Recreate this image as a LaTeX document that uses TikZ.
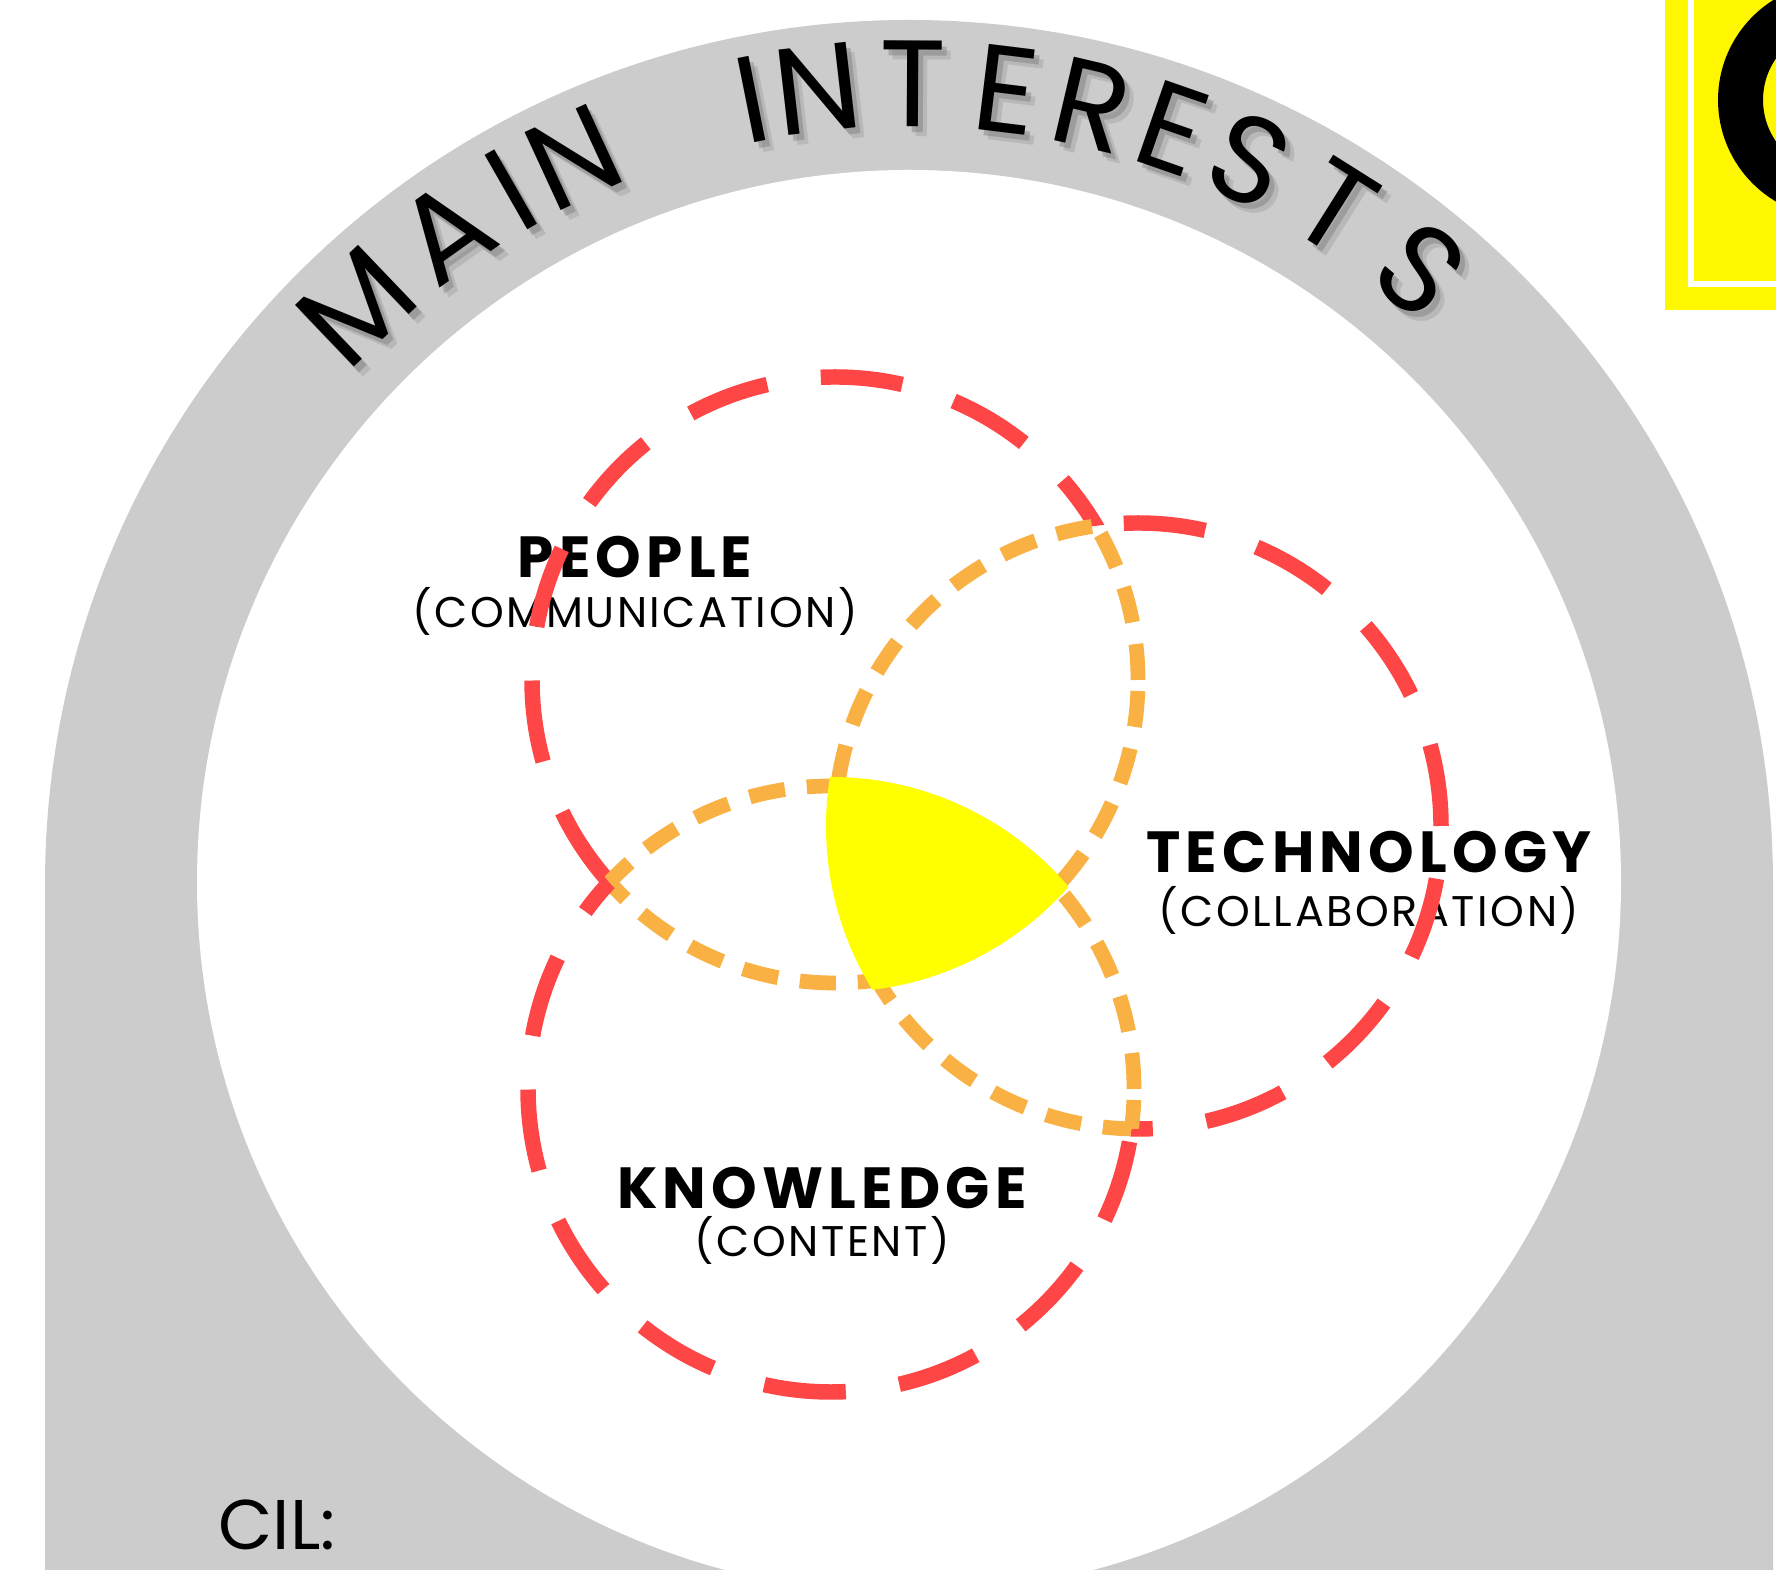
\documentclass[tikz,border=0pt]{standalone}
\usepackage{fontspec}
\setmainfont{Poppins}
\newfontfamily\headfont[LetterSpace=9]{Poppins}
\newfontfamily\subfont[LetterSpace=6]{Poppins}
\usetikzlibrary{
    positioning,
    calc
  }
\definecolor{archgray}{HTML}{CCCCCC}
\definecolor{venred}{HTML}{FF4646}
\definecolor{venorange}{HTML}{F8B142}
\definecolor{coreyellow}{HTML}{FFFF00}
\definecolor{boxyellow}{HTML}{FFF700}
\tikzstyle{reddash}=[draw=venred, line width=4.4pt, dash pattern=on 0.82cm off 0.54cm]
\tikzstyle{orangedash}=[draw=venorange, line width=4.2pt, dash pattern=on 0.36cm off 0.22cm]
\tikzstyle{headlbl}=[inner sep=0pt, font=\headfont\bfseries\fontsize{16.5}{20}\selectfont]
\tikzstyle{sublbl}=[inner sep=0pt, font=\subfont\fontsize{12.2}{15}\selectfont]
\tikzstyle{arcletter}=[inner sep=0pt, font=\fontsize{35}{40}\selectfont]

\begin{document}
\begin{tikzpicture}[x=0.01cm, y=0.01cm]
    \useasboundingbox (0,0) rectangle (1776,1570);
    \clip (0,0) rectangle (1776,1570);
    \fill[white] (0,0) rectangle (1776,1570);
    % grey arch and the white disc
    \fill[archgray] (45,0) -- (45,686) arc (180:0:864) -- (1773,0) -- cycle;
    \fill[white] (909,688) circle (712);
    % title round the arch, with its shadow
    \coordinate (g) at (909,686);
    \foreach \ch/\ang [count=\i] in {M/133.7, A/125.4, I/119.8, N/114.8,
        I/101.3, N/96.6, T/89.7, E/83.0, R/76.8, E/70.8, S/64.8, T/57.8, S/50.2} {
      \node[arcletter, text=black!50, opacity=0.25, rotate=\ang-90] (blur\i)
        at ($(g)+(\ang:800)+(9,-10)$) {\ch};
      \node[arcletter, text=black!55, opacity=0.4, rotate=\ang-90] (shadow\i)
        at ($(g)+(\ang:800)+(5,-6)$) {\ch};
      \node[arcletter, rotate=\ang-90] (title\i) at ($(g)+(\ang:800)$) {\ch};
    }
    % yellow corner box
    \fill[boxyellow] (1665,1260) rectangle (1776,1570);
    \draw[white, line width=1.5pt] (1691,1570) -- (1691,1286) -- (1776,1286);
    \begin{scope}
      \clip (1665,1260) rectangle (1776,1570);
      \fill[black, even odd rule] (1836,1470) circle (118) (1836,1470) circle (73);
    \end{scope}
    % labels
    \node[headlbl] (plabel) at (635,1013) {PEOPLE};
    \path (plabel)++(0,-54) node[sublbl] (psub) {(COMMUNICATION)};
    \node[headlbl] (tlabel) at (1369,718) {TECHNOLOGY};
    \path (tlabel)++(0,-58) node[sublbl] (tsub) {(COLLABORATION)};
    \node[headlbl] (klabel) at (822,382) {KNOWLEDGE};
    \path (klabel)++(0,-52) node[sublbl] (ksub) {(CONTENT)};
    % the three circles: red outside the others, orange inside one other
    \coordinate (p) at (835,890);
    \coordinate (t) at (1138,744);
    \coordinate (k) at (831,481);
    \foreach \c/\a/\b in {p/t/k, t/k/p, k/p/t} {
      \begin{scope}[even odd rule]
        \clip (-100,-100) -- (-100,1700) -- (1900,1700) -- (1900,-100) -- cycle (\a) circle (303);
        \clip (-100,-100) -- (-100,1700) -- (1900,1700) -- (1900,-100) -- cycle (\b) circle (303);
        \draw[reddash] (\c) circle (303);
      \end{scope}
      \begin{scope}[even odd rule]
        \clip (\a) circle (303);
        \clip (-100,-100) -- (-100,1700) -- (1900,1700) -- (1900,-100) -- cycle (\b) circle (303);
        \draw[orangedash] (\c) circle (303);
      \end{scope}
      \begin{scope}[even odd rule]
        \clip (\b) circle (303);
        \clip (-100,-100) -- (-100,1700) -- (1900,1700) -- (1900,-100) -- cycle (\a) circle (303);
        \draw[orangedash] (\c) circle (303);
      \end{scope}
    }
    % common part of all three, over the strokes
    \begin{scope}
      \clip (p) circle (312);
      \clip (t) circle (312);
      \fill[coreyellow] (k) circle (312);
    \end{scope}
    \node[inner sep=0pt, font=\fontsize{20}{24}\selectfont] (cil) at (277,45) {CIL:};
\end{tikzpicture}
\end{document}
